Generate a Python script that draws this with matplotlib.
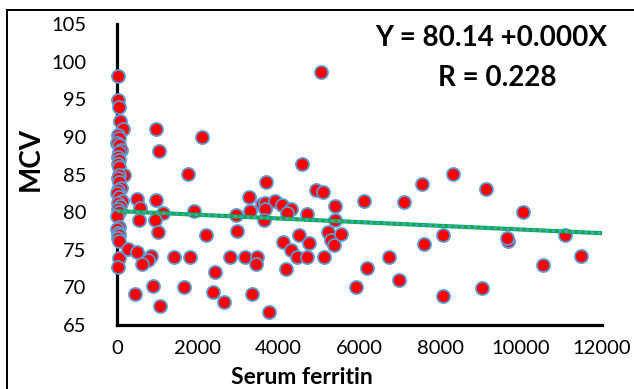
#!/usr/bin/env python3
"""Serum ferritin vs MCV scatter with linear trendline; writes out.png."""

import matplotlib

matplotlib.use("Agg")
import matplotlib.pyplot as plt
from matplotlib.patches import Rectangle

# points (serum ferritin, MCV)
ferritin_near_zero = [30, 20, 40, 70, 150, 20, 60, 10, 40, 100, 50, 20, 60, 30, 50, 180, 60, 20, 40,
                      90, 30, 10, 50, 120, 30, 80, 20, 40, 10, 40, 10, 30, 60, 20, 50, 40, 30]
mcv_near_zero = [98.1, 94.9, 94.0, 92.1, 91.0, 90.3, 89.9, 89.2, 88.9, 88.2, 88.0, 87.3, 86.9, 86.4,
                 86.0, 85.0, 84.9, 84.5, 84.0, 83.2, 83.0, 82.6, 82.05, 81.5, 81.2, 80.8, 80.4, 80.06,
                 79.5, 78.06, 77.8, 77.2, 76.9, 76.5, 76.2, 73.9, 72.7]

ferritin_low = [965, 2095, 1047, 1765, 487, 965, 569, 1130, 1913, 552, 950, 1015, 2210, 272, 495,
                830, 775, 630, 1400, 1815, 2425, 890, 1658, 458, 2383, 1055]
mcv_low = [91.0, 90.0, 88.1, 85.1, 81.8, 81.6, 80.5, 79.9, 80.1, 79.0, 79.0, 77.4, 77.0, 75.05, 74.75,
           74.2, 73.6, 73.1, 74.0, 74.0, 72.0, 70.2, 70.0, 69.15, 69.35, 67.5]

ferritin_mid = [4569, 3686, 4923, 5104, 5393, 3258, 3580, 3661, 3909, 4087, 4305, 4210, 3290, 3670,
                3630, 2950, 4693, 5393, 2961, 4498, 4107, 4754, 4301, 5228, 5290, 5360, 2804, 3175,
                3463, 3448, 4461, 4709, 5129, 4190, 2638, 3352, 3755, 5542, 5047]
mcv_mid = [86.4, 84.0, 83.0, 82.7, 80.8, 82.0, 81.1, 81.2, 81.5, 81.0, 80.4, 79.9, 80.2, 80.4,
           79.0, 79.6, 79.7, 79.0, 77.5, 77.0, 76.0, 75.9, 75.0, 77.4, 76.3, 75.6, 74.1, 74.1,
           74.1, 73.1, 74.0, 74.0, 74.1, 72.5, 68.0, 69.1, 66.7, 77.05, 98.6]

ferritin_high = [8320, 7553, 6118, 7108, 8073, 7595, 6737, 6177, 6984, 5906, 8057, 9121, 10052,
                 9681, 9640, 11083, 11472, 10547, 9038]
mcv_high = [85.07, 83.7, 81.5, 81.4, 77.0, 75.8, 74.0, 72.6, 71.0, 70.0, 68.9, 83.1, 80.0,
            76.2, 76.5, 77.0, 74.2, 73.0, 69.9]

trend_x = [0, 12000]
trend_y = [80.14, 77.2]

x_ticks = [0, 2000, 4000, 6000, 8000, 10000, 12000]
y_ticks = [65, 70, 75, 80, 85, 90, 95, 100, 105]

equation_text = "Y = 80.14 +0.000X"
r_text = "R = 0.228"

FONT = "Lato"
RED = "#ff0000"
EDGE_BLUE = "#5b9bd5"
GREEN = "#00b050"


def main() -> None:
    fig = plt.figure(figsize=(6.34, 3.89), dpi=100)
    ax = fig.add_axes([0.1845, 0.1645, 0.765, 0.7738])

    xs = ferritin_near_zero + ferritin_low + ferritin_mid + ferritin_high
    ys = mcv_near_zero + mcv_low + mcv_mid + mcv_high
    ax.scatter(xs, ys, s=88, c=RED, edgecolors=EDGE_BLUE, linewidths=1.3, zorder=3, clip_on=False)

    # trendline: solid green with a blue dotted overlay
    ax.plot(trend_x, trend_y, color=GREEN, lw=3.0, solid_capstyle="butt", zorder=4)
    ax.plot(trend_x, trend_y, color=EDGE_BLUE, lw=1.8, linestyle=(0, (1.1, 1.5)),
            dash_capstyle="butt", zorder=5)

    ax.set_xlim(0, 12000)
    ax.set_ylim(65, 105)
    ax.set_xticks(x_ticks)
    ax.set_yticks(y_ticks)
    ax.set_xticklabels([str(t) for t in x_ticks], fontsize=14.5, family=FONT)
    ax.set_yticklabels([str(t) for t in y_ticks], fontsize=14.5, family=FONT)
    ax.tick_params(axis="both", length=0)
    ax.tick_params(axis="x", pad=11)
    ax.tick_params(axis="y", pad=22)

    for side in ("top", "right"):
        ax.spines[side].set_visible(False)
    for side in ("left", "bottom"):
        ax.spines[side].set_linewidth(2.3)
        ax.spines[side].set_color("black")

    fig.text(0.048, 0.59, "MCV", rotation=90, ha="center", va="center",
             fontsize=20, fontweight="bold", family=FONT)
    fig.text(0.476, 0.002, "Serum ferritin", ha="center", va="bottom",
             fontsize=16.5, fontweight="bold", family=FONT)
    fig.text(0.775, 0.902, equation_text, ha="center", va="center",
             fontsize=20, fontweight="bold", family=FONT)
    fig.text(0.784, 0.800, r_text, ha="center", va="center",
             fontsize=20, fontweight="bold", family=FONT)

    # chart-area border, cut off at the right and bottom edges
    fig.patches.append(Rectangle((7 / 634, -0.1), 1.2, 1.1 - 10 / 389, transform=fig.transFigure,
                                 fill=False, edgecolor="black", lw=1.4))

    fig.savefig("out.png", dpi=100)
    plt.close(fig)


if __name__ == "__main__":
    main()
